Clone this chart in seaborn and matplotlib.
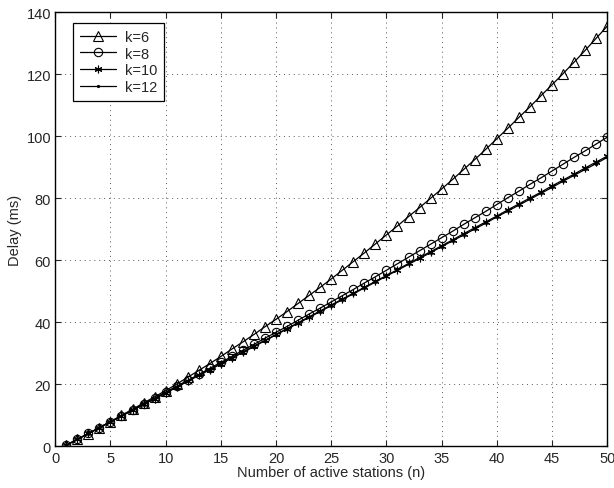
import numpy as np
import pandas as pd
import matplotlib
matplotlib.use("Agg")
import matplotlib.pyplot as plt
import seaborn as sns

# delay vs number of active stations
n = list(range(1, 51))

delay_k6 = [0.4, 2.3, 4.1, 6.1, 8.0, 10.0, 12.0, 14.0, 16.0, 18.0,
            20.1, 22.3, 24.5, 26.7, 29.0, 31.4, 33.7, 36.1, 38.6, 41.0,
            43.5, 46.1, 48.7, 51.3, 54.0, 56.8, 59.6, 62.4, 65.3, 68.2,
            71.1, 74.1, 77.0, 80.0, 83.0, 86.1, 89.3, 92.5, 95.8, 99.2,
            102.6, 106.1, 109.5, 113.1, 116.6, 120.2, 123.9, 127.7, 131.6, 135.5]

delay_k8 = [0.4, 2.3, 4.2, 6.1, 8.0, 9.9, 11.8, 13.7, 15.6, 17.5,
            19.4, 21.3, 23.2, 25.2, 27.1, 29.0, 31.0, 32.9, 34.9, 36.8,
            38.7, 40.7, 42.7, 44.6, 46.6, 48.6, 50.6, 52.7, 54.7, 56.8,
            58.9, 61.0, 63.1, 65.2, 67.3, 69.4, 71.6, 73.7, 75.8, 78.0,
            80.2, 82.3, 84.5, 86.6, 88.8, 91.0, 93.2, 95.3, 97.5, 99.7]

delay_k10 = [0.4, 2.3, 4.2, 6.0, 7.9, 9.8, 11.7, 13.6, 15.4, 17.3,
             19.2, 21.1, 23.0, 24.8, 26.7, 28.6, 30.5, 32.4, 34.2, 36.1,
             38.0, 39.9, 41.8, 43.7, 45.6, 47.5, 49.4, 51.3, 53.2, 55.1,
             57.0, 59.0, 60.9, 62.8, 64.7, 66.6, 68.6, 70.5, 72.4, 74.3,
             76.3, 78.2, 80.1, 82.0, 84.0, 85.9, 87.8, 89.8, 91.7, 93.6]

delay_k12 = [0.4, 2.3, 4.1, 6.0, 7.9, 9.8, 11.6, 13.5, 15.4, 17.2,
             19.1, 21.0, 22.9, 24.7, 26.6, 28.5, 30.3, 32.2, 34.1, 36.0,
             37.9, 39.7, 41.6, 43.5, 45.4, 47.3, 49.2, 51.1, 53.0, 54.9,
             56.8, 58.7, 60.6, 62.5, 64.4, 66.3, 68.2, 70.1, 72.0, 74.0,
             75.9, 77.8, 79.7, 81.6, 83.5, 85.5, 87.4, 89.3, 91.2, 93.2]

labels = ["k=6", "k=8", "k=10", "k=12"]
series = [delay_k6, delay_k8, delay_k10, delay_k12]
markers = ["^", "o", (6, 2, 0), "."]   # matlab-ish asterisk for k=10
msizes = [6.5, 6, 5.5, 3]
filled = [False, False, True, True]

sns.set_style("ticks")
plt.rcParams['font.family'] = ['Liberation Sans', 'DejaVu Sans']

fig = plt.figure(figsize=(6.14, 4.89), dpi=100)
ax = fig.add_axes([0.090, 0.085, 0.899, 0.888])

for lab, vals, m, ms, f in zip(labels, series, markers, msizes, filled):
    df = pd.DataFrame({"n": n, "delay": vals})
    sns.lineplot(data=df, x="n", y="delay", ax=ax, color="black", linewidth=0.9,
                 marker=m, markersize=ms, markerfacecolor="black" if f else "none",
                 markeredgecolor="black", markeredgewidth=0.8, label=lab)

ax.set_xlim(0, 50)
ax.set_ylim(0, 140)
ax.set_xticks(np.arange(0, 51, 5))
ax.set_yticks(np.arange(0, 141, 20))
ax.grid(True, linestyle=(0, (1, 4)), color="0.35", linewidth=0.7)
ax.tick_params(direction="in", top=True, right=True, labelsize=10.5, length=4, width=0.8, pad=3)
for s in ax.spines.values():
    s.set_linewidth(1.0)
    s.set_color("black")

ax.set_xlabel("Number of active stations (n)", fontsize=10.5, labelpad=0)
ax.set_ylabel("Delay (ms)", fontsize=10.5, labelpad=3)

leg = ax.legend(loc="upper left", bbox_to_anchor=(0.025, 0.985), fontsize=10.5, frameon=True,
                fancybox=False, edgecolor="black", handlelength=2.5, borderpad=0.45,
                labelspacing=0.2, handletextpad=0.6, borderaxespad=0.3, framealpha=1)
leg.get_frame().set_linewidth(0.9)

fig.savefig("out.png", dpi=100)
